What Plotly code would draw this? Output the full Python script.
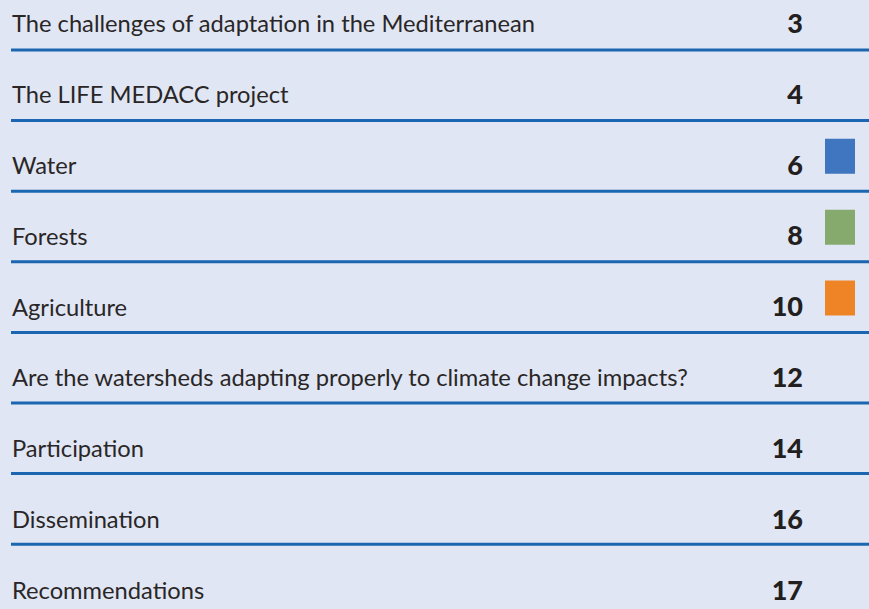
import plotly.graph_objects as go

titles = [
    "The challenges of adaptation in the Mediterranean",
    "The LIFE MEDACC project",
    "Water",
    "Forests",
    "Agriculture",
    "Are the watersheds adapting properly to climate change impacts?",
    "Participation",
    "Dissemination",
    "Recommendations",
]
pages = ["3", "4", "6", "8", "10", "12", "14", "16", "17"]
marker_rows = [2, 3, 4]
marker_colors = ["#3f76bf", "#86a96e", "#ef8427"]

W, H = 869, 609
row_step = 70.9
row_y = [26 + row_step * i for i in range(len(titles))]
line_y = [50 + 70.6 * i for i in range(len(titles) - 1)]

fig = go.Figure()
fig.add_trace(go.Scatter(
    x=[12] * len(titles), y=row_y, text=titles, mode="text",
    textposition="middle right",
    textfont=dict(family="Lato", size=23.7, color="#2a2627"),
    hoverinfo="skip", showlegend=False,
))
fig.add_trace(go.Scatter(
    x=[803] * len(pages), y=row_y, text=pages, mode="text",
    textposition="middle left",
    textfont=dict(family="Lato", size=27, color="#231f20", weight=900),
    hoverinfo="skip", showlegend=False,
))

shapes = []
for y in line_y:
    shapes.append(dict(type="line", x0=11, x1=W, y0=y, y1=y,
                       line=dict(color="#1a66b0", width=3), layer="above"))
for r, c in zip(marker_rows, marker_colors):
    y0 = row_y[r] - 29
    shapes.append(dict(type="rect", x0=825, x1=855, y0=y0, y1=y0 + 35,
                       fillcolor=c, line=dict(width=0)))

fig.update_layout(
    width=W, height=H, margin=dict(l=0, r=0, t=0, b=0),
    paper_bgcolor="#e0e6f3", plot_bgcolor="#e0e6f3",
    xaxis=dict(range=[0, W], visible=False, fixedrange=True),
    yaxis=dict(range=[H, 0], visible=False, fixedrange=True),
    shapes=shapes,
)
fig.write_html(
    "out.html",
    config=dict(displayModeBar=False),
    post_script="document.body.style.margin='0';document.body.style.padding='0';",
)
